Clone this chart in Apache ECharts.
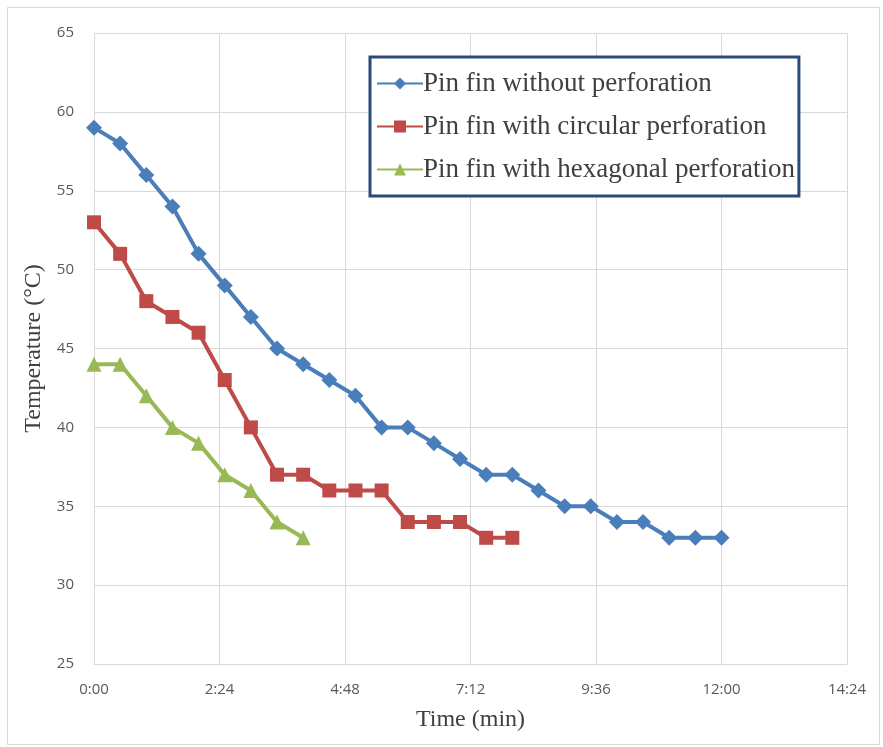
<!DOCTYPE html>
<html>
<head>
<meta charset="utf-8">
<script src="https://cdn.jsdelivr.net/npm/echarts@6/dist/echarts.min.js"></script>
<style>
html,body{margin:0;padding:0;background:#fff;}
#chart{width:883px;height:747px;}
</style>
</head>
<body>
<div id="chart"></div>
<script>
// Time in minutes (sampled every 30 s)
const timeNoPerf = [0,0.5,1,1.5,2,2.5,3,3.5,4,4.5,5,5.5,6,6.5,7,7.5,8,8.5,9,9.5,10,10.5,11,11.5,12];
const tempNoPerf = [59,58,56,54,51,49,47,45,44,43,42,40,40,39,38,37,37,36,35,35,34,34,33,33,33];
const timeCircular = [0,0.5,1,1.5,2,2.5,3,3.5,4,4.5,5,5.5,6,6.5,7,7.5,8];
const tempCircular = [53,51,48,47,46,43,40,37,37,36,36,36,34,34,34,33,33];
const timeHex = [0,0.5,1,1.5,2,2.5,3,3.5,4];
const tempHex = [44,44,42,40,39,37,36,34,33];
const seriesNames = ['Pin fin without perforation','Pin fin with circular perforation','Pin fin with hexagonal perforation'];

function pairs(xs, ys){ return xs.map((x,i)=>[x, ys[i]]); }
function fmtTime(v){
  const s = Math.round(v*60);
  const m = Math.floor(s/60);
  const r = s - m*60;
  return m + ':' + (r<10?'0':'') + r;
}

const chart = echarts.init(document.getElementById('chart'));
const serif = '"Liberation Serif", "DejaVu Serif", serif';
const sans = '"Open Sans", "Noto Sans", sans-serif';
chart.setOption({
  animation:false,
  backgroundColor:'#ffffff',
  graphic:[{type:'rect', shape:{x:7.5,y:7.5,width:872,height:737}, style:{fill:'none', stroke:'#d9d9d9', lineWidth:1}, silent:true}],
  grid:{left:94, top:33, right:36, bottom:83},
  legend:{
    orient:'vertical', left:370, top:57,
    padding:[13,4,13,6],
    backgroundColor:'#ffffff',
    borderColor:'#2a4a78', borderWidth:3,
    itemWidth:46, itemHeight:15, itemGap:16,
    textStyle:{fontFamily:serif, fontSize:27, color:'#404040', padding:[0,0,0,-5]},
    data:seriesNames
  },
  xAxis:{
    type:'value', min:0, max:14.4, interval:2.4,
    name:'Time (min)', nameLocation:'middle', nameGap:44,
    nameTextStyle:{fontFamily:serif, fontSize:24, color:'#404040'},
    axisLine:{show:true, lineStyle:{color:'#d9d9d9', width:1}},
    axisTick:{show:false},
    axisLabel:{formatter:fmtTime, fontFamily:sans, fontSize:15, color:'#595959', margin:18},
    splitLine:{show:true, lineStyle:{color:'#d9d9d9', width:1}}
  },
  yAxis:{
    type:'value', min:25, max:65, interval:5,
    name:'Temperature (°C)', nameLocation:'middle', nameGap:46,
    nameTextStyle:{fontFamily:serif, fontSize:24, color:'#404040'},
    axisLine:{show:true, lineStyle:{color:'#d9d9d9', width:1}},
    axisTick:{show:false},
    axisLabel:{fontFamily:sans, fontSize:15, color:'#595959', margin:20},
    splitLine:{show:true, lineStyle:{color:'#d9d9d9', width:1}}
  },
  series:[
    {name:seriesNames[0], type:'line', data:pairs(timeNoPerf,tempNoPerf), symbol:'diamond', symbolSize:16,
     lineStyle:{color:'#4a7ebb', width:4}, itemStyle:{color:'#4a7ebb'}},
    {name:seriesNames[1], type:'line', data:pairs(timeCircular,tempCircular), symbol:'rect', symbolSize:14,
     lineStyle:{color:'#be4b48', width:4}, itemStyle:{color:'#be4b48'}},
    {name:seriesNames[2], type:'line', data:pairs(timeHex,tempHex), symbol:'triangle', symbolSize:15,
     lineStyle:{color:'#98b954', width:4}, itemStyle:{color:'#98b954'}}
  ]
});
</script>
</body>
</html>
